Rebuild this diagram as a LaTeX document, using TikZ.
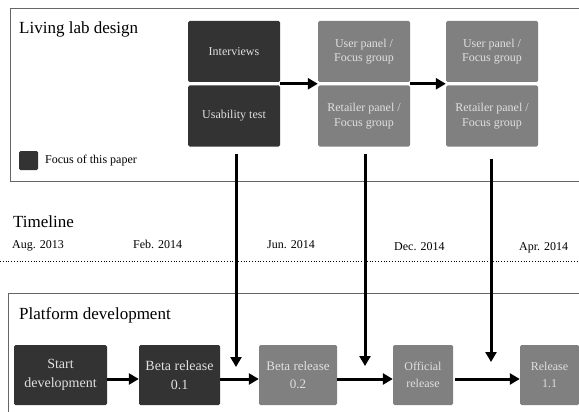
\documentclass[tikz,border=0pt]{standalone}
\usepackage{fontspec}
\setmainfont{Liberation Serif}
\usetikzlibrary{arrows.meta}
\usetikzlibrary{calc}

\begin{document}
\begin{tikzpicture}[x=1pt,y=-1pt]
	\tikzstyle{box} = [rectangle, rounded corners=1.5pt, text centered, align=center, text=white!88!black, inner sep=1pt]
	\tikzstyle{focus} = [box, fill=black!80]
	\tikzstyle{later} = [box, fill=black!50]
	\tikzstyle{lab} = [minimum width=92pt, minimum height=61pt, font=\fontsize{12}{14.5}\selectfont]
	\tikzstyle{release} = [minimum height=60pt, font=\fontsize{13}{18}\selectfont]
	\tikzstyle{flow} = [-{Triangle[length=10pt,width=11pt]}, line width=3pt]
	\tikzstyle{frame} = [draw=black!60, line width=1pt]
	\tikzstyle{title} = [anchor=base west, inner sep=0pt, font=\fontsize{17}{20}\selectfont]
	\tikzstyle{date} = [anchor=base west, inner sep=0pt, font=\fontsize{12}{14}\selectfont]
	\useasboundingbox (0,0) rectangle (579,412);
	% frames
	\draw[frame] (585,9) -- (10,9) -- (10,181) -- (585,181);
	\draw[frame] (585,293) -- (8,293) -- (8,420);
	% living lab design
	\node (labtitle)[title] at (19,34) {Living lab design};
	\node (intv)[focus, lab] at (234,51.5) {Interviews};
	\node (usab)[focus, lab] at (234,116) {Usability test};
	\node (user1)[later, lab] at (364,51.5) {User panel /\\Focus group};
	\node (retail1)[later, lab] at (364,116) {Retailer panel /\\Focus group};
	\node (user2)[later, lab] at (492,51.5) {User panel /\\Focus group};
	\node (retail2)[later, lab] at (492,116) {Retailer panel /\\Focus group};
	\node (key)[focus, minimum size=19pt] at (28.5,160.5) {};
	\node (keytext)[anchor=base west, inner sep=0pt, font=\fontsize{12}{14}\selectfont] at (45,164) {Focus of this paper};
	% timeline
	\node (timetitle)[title] at (13,227) {Timeline};
	\node (d1)[date] at (12,248) {Aug. 2013};
	\node (d2)[date] at (133,248) {Feb. 2014};
	\node (d3)[date] at (267,248) {Jun. 2014};
	\node (d4)[date] at (394,250) {Dec. 2014};
	\node (d5)[date] at (519,250) {Apr. 2014};
	\coordinate (tl0) at (0,261);
	\coordinate (tl1) at (579,261);
	\draw[dotted, line width=0.8pt] (tl0) -- (tl1);
	% platform development
	\node (devtitle)[title] at (19,319) {Platform development};
	\node (start)[focus, release, minimum width=93pt, font=\fontsize{14}{19}\selectfont] at (60.5,375) {Start\\development};
	\node (beta1)[focus, release, minimum width=81pt, font=\fontsize{14}{19}\selectfont] at (179.5,375) {Beta release\\0.1};
	\node (beta2)[later, release, minimum width=78pt] at (298,375) {Beta release\\0.2};
	\node (official)[later, release, minimum width=60pt, font=\fontsize{12}{17}\selectfont] at (423,375) {Official\\release};
	\node (rel11)[later, release, minimum width=59pt, font=\fontsize{12}{17}\selectfont] at (549.5,375) {Release\\1.1};
	% connectors
	\coordinate (gap0) at ($(intv.south east)!0.5!(usab.north east)$);
	\coordinate (gap1) at ($(user1.south west)!0.5!(retail1.north west)$);
	\coordinate (gap1e) at ($(user1.south east)!0.5!(retail1.north east)$);
	\coordinate (gap2) at ($(user2.south west)!0.5!(retail2.north west)$);
	\draw[flow] (gap0) -- (gap1);
	\draw[flow] (gap1e) -- (gap2);
	\coordinate (m1) at (236,367);
	\coordinate (m2) at (365,366);
	\coordinate (m3) at (491,362);
	\draw[flow] ([xshift=2pt,yshift=-7pt]usab.south) -- (m1);
	\draw[flow] ([xshift=1pt,yshift=-7pt]retail1.south) -- (m2);
	\draw[flow] ([xshift=-1pt,yshift=-12pt]retail2.south) -- (m3);
	\draw[flow] ([yshift=-4pt]start.east) -- ([yshift=-4pt]beta1.west);
	\draw[flow] ([yshift=-4pt]beta1.east) -- ([yshift=-4pt]beta2.west);
	\draw[flow] ([yshift=-4pt]beta2.east) -- ([yshift=-4pt]official.west);
	\draw[flow] ([xshift=2pt,yshift=-4pt]official.east) -- ([yshift=-4pt]rel11.west);
\end{tikzpicture}
\end{document}
